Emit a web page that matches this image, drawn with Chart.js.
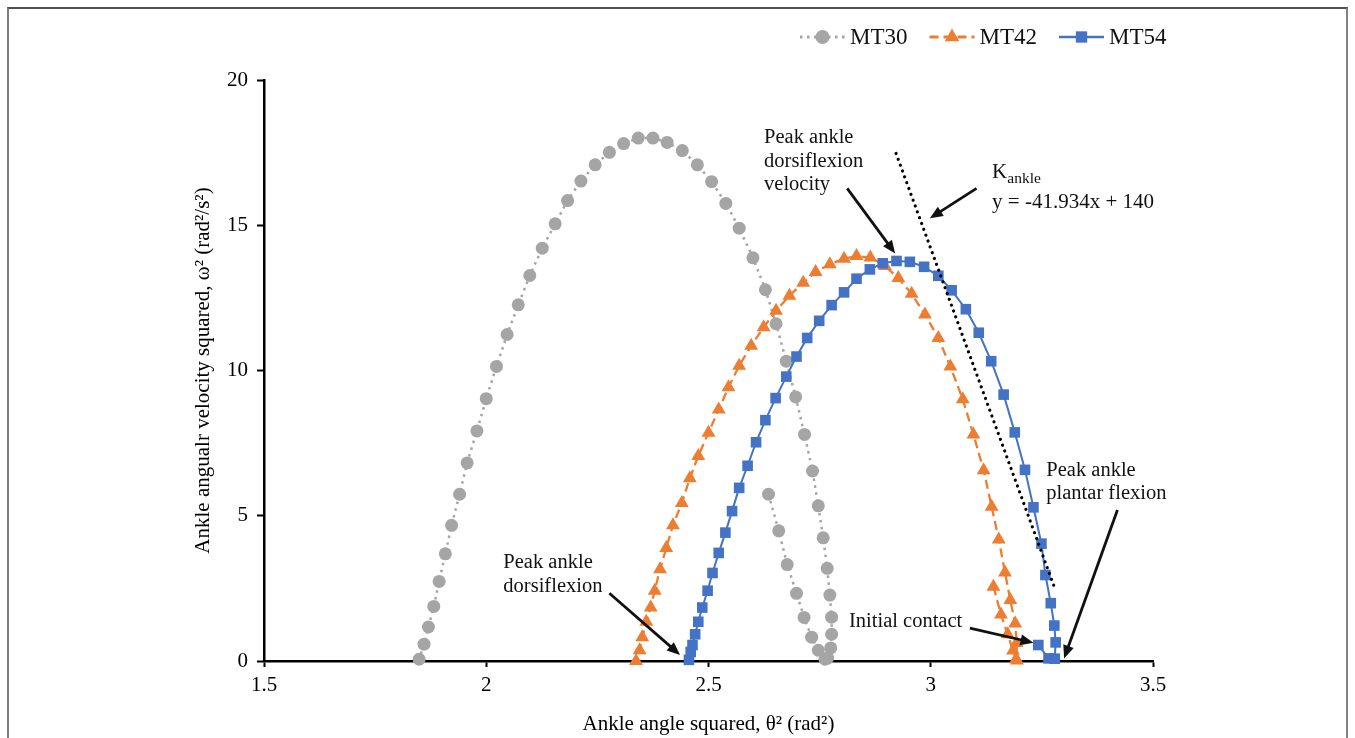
<!DOCTYPE html>
<html>
<head>
<meta charset="utf-8">
<script src="https://cdn.jsdelivr.net/npm/chart.js@4.4.1/dist/chart.umd.min.js"></script>
<style>
html,body{margin:0;padding:0;background:#fff;}
#wrap{position:relative;width:1355px;height:738px;overflow:hidden;background:#fff;}
#frame{position:absolute;left:7px;top:7px;width:1341px;height:800px;border:2px solid #808080;border-top-color:#505050;box-sizing:border-box;}
canvas{position:absolute;left:0;top:0;}
</style>
</head>
<body>
<div id="wrap"><div id="frame"></div><canvas id="c" width="1355" height="738"></canvas></div>
<script>
const FONT = "'Liberation Serif','Times New Roman',serif";

// ---- data ----
const xTicks = [1.5, 2, 2.5, 3, 3.5];
const yTicks = [0, 5, 10, 15, 20];
const seriesNames = ['MT30', 'MT42', 'MT54'];

const mt30X = [2.635,2.658,2.677,2.698,2.715,2.732,2.747,2.762,2.768,2.775,2.777,2.777,2.773,2.767,2.758,2.747,2.734,2.716,2.696,2.675,2.652,2.628,2.600,2.569,2.539,2.507,2.475,2.441,2.407,2.375,2.342,2.309,2.277,2.245,2.213,2.183,2.155,2.126,2.098,2.072,2.047,2.023,2.000,1.979,1.957,1.940,1.922,1.908,1.894,1.882,1.870,1.860,1.849];
const mt30Y = [5.74,4.48,3.32,2.33,1.50,0.82,0.37,0.06,0.10,0.45,0.92,1.51,2.27,3.19,4.24,5.34,6.54,7.80,9.09,10.32,11.61,12.78,13.88,14.90,15.75,16.50,17.08,17.57,17.85,18.00,18.00,17.81,17.51,17.08,16.52,15.85,15.05,14.21,13.27,12.26,11.24,10.14,9.03,7.92,6.82,5.74,4.67,3.69,2.74,1.88,1.17,0.58,0.06];

const mt42X = [3.141,3.158,3.173,3.185,3.192,3.194,3.193,3.190,3.179,3.167,3.153,3.137,3.119,3.096,3.072,3.044,3.017,2.987,2.957,2.927,2.897,2.864,2.833,2.805,2.773,2.741,2.713,2.682,2.652,2.624,2.596,2.569,2.545,2.523,2.500,2.477,2.458,2.440,2.420,2.405,2.391,2.379,2.370,2.360,2.351,2.345,2.337];
const mt42Y = [2.56,1.60,0.92,0.36,0.06,0.02,0.62,1.29,2.10,3.05,4.18,5.31,6.57,7.80,9.01,10.14,11.12,11.93,12.64,13.18,13.60,13.89,13.94,13.85,13.66,13.39,13.02,12.57,12.06,11.49,10.85,10.16,9.42,8.66,7.86,7.06,6.29,5.44,4.67,3.89,3.16,2.42,1.84,1.35,0.82,0.37,0.00];

const mt54X = [3.242,3.265,3.279,3.281,3.278,3.270,3.258,3.249,3.231,3.212,3.189,3.164,3.136,3.108,3.079,3.047,3.017,2.985,2.953,2.923,2.892,2.863,2.833,2.805,2.777,2.749,2.722,2.698,2.675,2.651,2.628,2.607,2.588,2.569,2.553,2.538,2.523,2.509,2.498,2.486,2.477,2.470,2.464,2.460,2.456];
const mt54Y = [0.55,0.09,0.08,0.64,1.22,1.99,2.96,4.04,5.29,6.58,7.87,9.17,10.32,11.30,12.11,12.76,13.26,13.57,13.74,13.77,13.69,13.48,13.16,12.69,12.25,11.71,11.12,10.48,9.79,9.05,8.29,7.53,6.72,5.96,5.16,4.42,3.72,3.03,2.42,1.84,1.35,0.92,0.55,0.31,0.04];

// K_ankle trend line end points
const kAnkleX = [2.922, 3.280];
const kAnkleY = [17.47, 2.46];

// ---- annotations (data coordinates) ----
const notes = [
  {x: 2.625, y: 18.0, lines: ['Peak ankle', 'dorsiflexion', 'velocity']},
  {x: 2.0385, y: 3.38, lines: ['Peak ankle', 'dorsiflexion']},
  {x: 2.816, y: 1.35, lines: ['Initial contact']},
  {x: 3.260, y: 6.57, lines: ['Peak ankle', 'plantar flexion']}
];
const arrows = [
  [2.812, 16.27, 2.920, 14.03],
  [3.103, 16.27, 2.998, 15.24],
  [2.277, 2.33, 2.436, 0.21],
  [3.088, 1.13, 3.231, 0.63],
  [3.420, 5.20, 3.300, 0.09]
];
const kNote = {x: 3.138, y: 16.8, main: 'K', sub: 'ankle', eq: 'y = -41.934x + 140', eqY: 15.77};

function pts(xs, ys) { return xs.map((x, i) => ({x: x, y: ys[i]})); }

function drawMarker(ctx, style, r, x, y) {
  if (Chart.helpers && Chart.helpers.drawPoint) {
    Chart.helpers.drawPoint(ctx, {pointStyle: style, radius: r, rotation: 0, borderWidth: 0}, x, y);
    return;
  }
  ctx.beginPath();
  if (style === 'circle') ctx.arc(x, y, r, 0, Math.PI * 2);
  else if (style === 'rect') { const s = r * Math.SQRT1_2; ctx.rect(x - s, y - s, 2 * s, 2 * s); }
  else { ctx.moveTo(x, y - r); ctx.lineTo(x + r * 0.866, y + r / 2); ctx.lineTo(x - r * 0.866, y + r / 2); ctx.closePath(); }
  ctx.fill();
}

const legendPlugin = {
  id: 'customLegend',
  afterDraw(chart) {
    const ctx = chart.ctx;
    ctx.save();
    ctx.font = '23px ' + FONT;
    ctx.textBaseline = 'middle';
    ctx.textAlign = 'left';
    let x = 800;
    const y = 37;
    seriesNames.forEach(name => {
      const ds = chart.data.datasets.find(d => d.label === name);
      ctx.save();
      ctx.strokeStyle = ds.borderColor;
      ctx.lineWidth = ds.borderWidth + 0.5;
      ctx.setLineDash(ds.borderDash || []);
      ctx.lineCap = ds.borderCapStyle || 'butt';
      ctx.beginPath(); ctx.moveTo(x, y); ctx.lineTo(x + 45, y); ctx.stroke();
      ctx.restore();
      ctx.fillStyle = ds.pointBackgroundColor;
      drawMarker(ctx, ds.pointStyle, ds.pointRadius + 0.5, x + 22.5, y);
      ctx.fillStyle = '#111';
      ctx.fillText(name, x + 50, y + 1);
      x += 50 + ctx.measureText(name).width + 22;
    });
    ctx.restore();
  }
};

const notePlugin = {
  id: 'notes',
  afterDatasetsDraw(chart) {
    const ctx = chart.ctx;
    const sx = chart.scales.x, sy = chart.scales.y;
    const px = v => sx.getPixelForValue(v), py = v => sy.getPixelForValue(v);
    ctx.save();
    ctx.fillStyle = '#111';
    ctx.strokeStyle = '#111';
    ctx.textBaseline = 'middle';
    ctx.textAlign = 'left';
    ctx.font = '20.5px ' + FONT;
    notes.forEach(n => n.lines.forEach((t, i) => ctx.fillText(t, px(n.x), py(n.y) + i * 23.5)));
    // K ankle label
    ctx.font = '21px ' + FONT;
    const kx = px(kNote.x), ky = py(kNote.y);
    ctx.fillText(kNote.main, kx, ky);
    const kw = ctx.measureText(kNote.main).width;
    ctx.font = '15.5px ' + FONT;
    ctx.fillText(kNote.sub, kx + kw, ky + 6);
    ctx.font = '21px ' + FONT;
    ctx.fillText(kNote.eq, kx, py(kNote.eqY));
    // arrows
    arrows.forEach(a => {
      const x1 = px(a[0]), y1 = py(a[1]), x2 = px(a[2]), y2 = py(a[3]);
      const ang = Math.atan2(y2 - y1, x2 - x1);
      const L = 13, W = 5.5;
      const bx = x2 - L * Math.cos(ang), by = y2 - L * Math.sin(ang);
      ctx.lineWidth = 2.8;
      ctx.lineCap = 'butt';
      ctx.beginPath(); ctx.moveTo(x1, y1); ctx.lineTo(bx + 2 * Math.cos(ang), by + 2 * Math.sin(ang)); ctx.stroke();
      ctx.beginPath();
      ctx.moveTo(x2, y2);
      ctx.lineTo(bx + W * Math.sin(ang), by - W * Math.cos(ang));
      ctx.lineTo(bx - W * Math.sin(ang), by + W * Math.cos(ang));
      ctx.closePath(); ctx.fill();
    });
    ctx.restore();
  }
};

const axisFont = {family: FONT, size: 21};

new Chart(document.getElementById('c'), {
  type: 'scatter',
  data: {
    datasets: [
      {
        label: 'Kankle', data: pts(kAnkleX, kAnkleY), showLine: true,
        borderColor: '#000', borderWidth: 3.2, borderDash: [0.01, 6.2], borderCapStyle: 'round',
        pointRadius: 0, clip: false, order: 1
      },
      {
        label: 'MT54', data: pts(mt54X, mt54Y), showLine: true,
        borderColor: '#4472c4', borderWidth: 2, borderDash: [],
        pointStyle: 'rect', pointRadius: 7.5, pointBackgroundColor: '#4472c4', pointBorderWidth: 0,
        clip: false, order: 2
      },
      {
        label: 'MT42', data: pts(mt42X, mt42Y), showLine: true,
        borderColor: '#ed7d31', borderWidth: 2.3, borderDash: [9, 5],
        pointStyle: 'triangle', pointRadius: 8, pointBackgroundColor: '#ed7d31', pointBorderWidth: 0,
        clip: false, order: 3
      },
      {
        label: 'MT30', data: pts(mt30X, mt30Y), showLine: true,
        borderColor: '#a5a5a5', borderWidth: 2.5, borderDash: [2.5, 4.5],
        pointStyle: 'circle', pointRadius: 6.5, pointBackgroundColor: '#a5a5a5', pointBorderWidth: 0,
        clip: false, order: 4
      }
    ]
  },
  options: {
    responsive: false,
    animation: false,
    devicePixelRatio: 1,
    events: [],
    layout: {padding: {left: 170, right: 202, top: 80, bottom: 0}},
    elements: {line: {tension: 0}},
    plugins: {legend: {display: false}, tooltip: {enabled: false}},
    scales: {
      x: {
        type: 'linear', min: xTicks[0], max: xTicks[xTicks.length - 1],
        afterBuildTicks: s => { s.ticks = xTicks.map(v => ({value: v})); },
        afterFit: s => { s.height = 77; },
        grid: {display: true, drawOnChartArea: false, drawTicks: true, tickLength: 6, tickWidth: 2, tickColor: '#000'},
        border: {display: true, color: '#000', width: 2.5},
        ticks: {color: '#000', font: axisFont, padding: 6, maxRotation: 0, autoSkip: false, callback: v => String(v)},
        title: {display: true, text: 'Ankle angle squared, θ² (rad²)', color: '#000', font: axisFont, padding: {top: 0, bottom: 1}}
      },
      y: {
        type: 'linear', min: yTicks[0], max: yTicks[yTicks.length - 1],
        afterBuildTicks: s => { s.ticks = yTicks.map(v => ({value: v})); },
        afterFit: s => { s.width = 94; },
        grid: {display: true, drawOnChartArea: false, drawTicks: true, tickLength: 7, tickWidth: 2, tickColor: '#000'},
        border: {display: true, color: '#000', width: 2.5},
        ticks: {color: '#000', font: axisFont, padding: 9, autoSkip: false, callback: v => String(v)},
        title: {display: true, text: 'Ankle angualr velocity squared, ω² (rad²/s²)', color: '#000', font: axisFont, padding: {top: 21, bottom: 0}}
      }
    }
  },
  plugins: [legendPlugin, notePlugin]
});
</script>
</body>
</html>
